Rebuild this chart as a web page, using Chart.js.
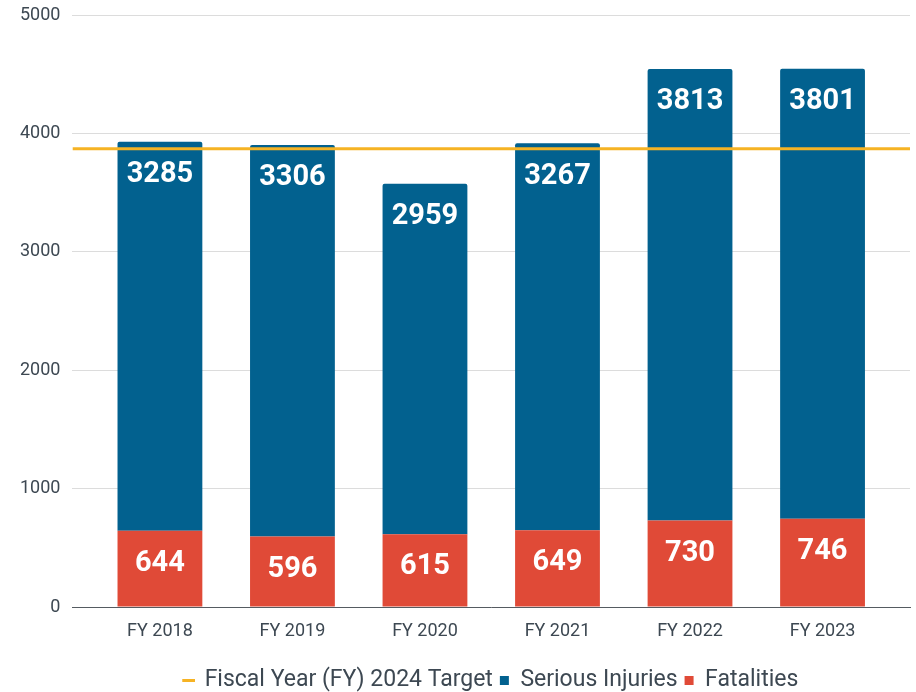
<!DOCTYPE html>
<html>
<head>
<meta charset="utf-8">
<script src="https://cdn.jsdelivr.net/npm/chart.js@4"></script>
<style>
  html, body { margin: 0; padding: 0; background: #fff; }
  #wrap { width: 916px; height: 692px; }
</style>
</head>
<body>
<div id="wrap"><canvas id="myChart"></canvas></div>
<script>
const categories = ['FY 2018', 'FY 2019', 'FY 2020', 'FY 2021', 'FY 2022', 'FY 2023'];
const seriousInjuries = [3285, 3306, 2959, 3267, 3813, 3801];
const fatalities = [644, 596, 615, 649, 730, 746];
const target = 3870;
const yTicks = [0, 1000, 2000, 3000, 4000, 5000];

const blue = '#02618f';
const red = '#e04a37';
const orange = '#f6b324';
const textColor = '#3d4852';

const toPoints = vals => vals.map((v, i) => ({x: i, y: v}));

// white value labels near the top of each segment
const barLabels = {
    id: 'barLabels',
    afterDatasetsDraw(chart) {
        const c = chart.ctx;
        c.save();
        c.fillStyle = '#fff';
        c.font = 'bold 29px Roboto';
        c.textAlign = 'center';
        c.textBaseline = 'middle';
        chart.data.datasets.forEach((ds, di) => {
            if (ds.type === 'line') return;
            chart.getDatasetMeta(di).data.forEach((el, i) => {
                c.fillText(ds.data[i].y, el.x, el.y + 33);
            });
        });
        c.restore();
    }
};

const legendOrder = [0, 2, 1];

new Chart(document.getElementById('myChart'), {
    type: 'bar',
    data: {
        datasets: [
            {
                type: 'line',
                label: 'Fiscal Year (FY) 2024 Target',
                data: [{x: -0.66, y: target}, {x: categories.length - 0.34, y: target}],
                borderColor: orange,
                backgroundColor: orange,
                borderWidth: 3,
                pointRadius: 0,
                pointStyle: 'line',
                stack: 'target'
            },
            {
                label: 'Fatalities',
                data: toPoints(fatalities),
                backgroundColor: red,
                pointStyle: 'rect',
                barPercentage: 0.8,
                categoryPercentage: 0.8
            },
            {
                label: 'Serious Injuries',
                data: toPoints(seriousInjuries),
                backgroundColor: blue,
                pointStyle: 'rect',
                borderRadius: {topLeft: 2, topRight: 2},
                borderSkipped: false,
                barPercentage: 0.8,
                categoryPercentage: 0.8
            }
        ]
    },
    options: {
        responsive: true,
        maintainAspectRatio: false,
        animation: false,
        layout: {padding: {top: 0, right: 6, left: 8, bottom: -10}},
        plugins: {
            tooltip: {enabled: false},
            legend: {
                position: 'bottom',
                fullSize: false,
                labels: {
                    usePointStyle: true,
                    boxWidth: 9,
                    boxHeight: 9,
                    padding: 7,
                    color: textColor,
                    font: {size: 23, family: 'Roboto'},
                    sort: (a, b) => legendOrder.indexOf(a.datasetIndex) - legendOrder.indexOf(b.datasetIndex)
                }
            }
        },
        scales: {
            x: {
                type: 'linear',
                stacked: true,
                offset: false,
                min: -0.66,
                max: categories.length - 0.34,
                afterBuildTicks: s => { s.ticks = categories.map((c, i) => ({value: i})); },
                afterFit: s => { s.height = 55; },
                grid: {display: false},
                border: {display: true, color: '#555b61', width: 1},
                ticks: {
                    color: textColor,
                    padding: 6,
                    font: {size: 18, family: 'Roboto'},
                    callback: v => categories[v]
                }
            },
            y: {
                stacked: true,
                min: 0,
                max: 5000,
                afterBuildTicks: s => { s.ticks = yTicks.map(v => ({value: v})); },
                afterFit: s => { s.paddingTop = 15; },
                grid: {color: '#dcdcdc', drawTicks: false},
                border: {display: false},
                ticks: {
                    color: textColor,
                    padding: 12,
                    font: {size: 18, family: 'Roboto'},
                    callback: v => String(v)
                }
            }
        }
    },
    plugins: [barLabels]
});
</script>
</body>
</html>
